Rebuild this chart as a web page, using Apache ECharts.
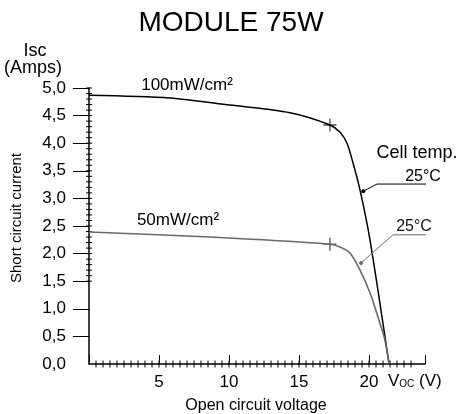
<!DOCTYPE html>
<html>
<head>
<meta charset="utf-8">
<script src="https://cdn.jsdelivr.net/npm/echarts@6/dist/echarts.min.js"></script>
<style>
html, body { margin: 0; padding: 0; background: #fff; }
#chart { width: 464px; height: 414px; }
</style>
</head>
<body>
<div id="chart"></div>
<script>
var FONT = '"Liberation Sans", Arial, Helvetica, sans-serif';

// I-V curves: [voltage V, current A]
var curve100 = [[0, 4.87], [5.79, 4.82], [10.07, 4.69], [14.36, 4.55], [17.21, 4.33],
    [17.93, 4.20], [18.43, 4.00], [18.86, 3.64], [19.36, 3.15], [20.07, 2.25], [21.43, 0]];
var curve50 = [[0, 2.39], [8.64, 2.30], [17.21, 2.17], [17.93, 2.12], [18.64, 2.01],
    [19.36, 1.70], [20.07, 1.29], [20.64, 0.85], [21.14, 0.43], [21.43, 0]];
// "+" marks on the knee of each curve
var kneePoints = [[17.21, 4.33], [17.21, 2.17]];
// leader lines of the "25°C" notes
var leader100 = [[19.59, 3.13], [20.57, 3.26], [25.79, 3.26]];
var leader50 = [[19.43, 1.83], [21.71, 2.34], [24.93, 2.34]];

var xLabelValues = [5, 10, 15, 20];
var yLabelValues = [0, 0.5, 1, 1.5, 2, 2.5, 3, 3.5, 4, 4.5, 5];
var yTickValues = [0.5, 1, 1.5, 2, 2.5, 3, 3.5, 4, 4.5, 5];
// small ticks: every 0.5 V up to 23 V, every 0.1 A from 1.5 A up
var xMinorTicks = [];
for (var i = 1; i <= 46; i++) xMinorTicks.push(i * 0.5);
var yMinorTicks = [];
for (var j = 15; j <= 50; j++) yMinorTicks.push(j / 10);

var chart = echarts.init(document.getElementById('chart'));

var axisCol = '#000';

// short tick crossing the axis line, placed through the axis scales
function tickItem(horizontal, half) {
    return function (params, api) {
        var p = api.coord([api.value(0), api.value(1)]);
        var shape = horizontal
            ? { x1: p[0] - half, y1: p[1], x2: p[0] + half, y2: p[1] }
            : { x1: p[0], y1: p[1] - half, x2: p[0], y2: p[1] + half };
        return { type: 'line', shape: shape, style: { stroke: axisCol, lineWidth: 1 } };
    };
}

var option = {
    animation: false,
    backgroundColor: '#fff',
    grid: { left: 89, top: 88, width: 336, bottom: 50 },
    xAxis: {
        type: 'value', min: 0, max: 24, interval: 5,
        axisLine: { show: true, lineStyle: { color: axisCol, width: 1.5 } },
        axisTick: { show: true, inside: true, length: 9, lineStyle: { color: axisCol, width: 1 } },
        axisLabel: {
            customValues: xLabelValues, margin: 10,
            color: '#000', fontFamily: FONT, fontSize: 17
        },
        splitLine: { show: false }
    },
    yAxis: {
        type: 'value', min: 0, max: 5, interval: 0.5,
        axisLine: { show: true, lineStyle: { color: axisCol, width: 1.5 } },
        axisTick: { show: true, customValues: yTickValues, length: 16, lineStyle: { color: axisCol, width: 1 } },
        axisLabel: {
            customValues: yLabelValues, margin: 23,
            color: '#000', fontFamily: FONT, fontSize: 17,
            formatter: function (v) { return v.toFixed(1).replace('.', ','); }
        },
        splitLine: { show: false }
    },
    series: [
        {
            type: 'custom', clip: false, silent: true,
            data: xMinorTicks.map(function (v) { return [v, 0]; }),
            renderItem: tickItem(false, 3.5)
        },
        {
            type: 'custom', clip: false, silent: true,
            data: yMinorTicks.map(function (v) { return [0, v]; }),
            renderItem: tickItem(true, 3)
        },
        {
            type: 'line', data: curve100,
            smooth: 0.3, showSymbol: false,
            lineStyle: { color: '#000', width: 1.5 }
        },
        {
            type: 'line', data: curve50,
            smooth: 0.3, showSymbol: false,
            lineStyle: { color: '#6a6a6a', width: 1.6 }
        },
        {
            type: 'scatter', data: kneePoints,
            symbol: 'path://M5.4,0h1.2v12h-1.2zM0,5.4h12v1.2h-12z', symbolSize: 13,
            itemStyle: { color: '#222' }
        },
        {
            type: 'line', clip: false,
            data: leader100.map(function (p, i) {
                return { value: p, symbol: i === 0 ? 'circle' : 'none', symbolSize: 4 };
            }),
            showSymbol: true, itemStyle: { color: '#000' },
            lineStyle: { color: '#000', width: 1 }
        },
        {
            type: 'line', clip: false,
            data: leader50.map(function (p, i) {
                return { value: p, symbol: i === 0 ? 'circle' : 'none', symbolSize: 4 };
            }),
            showSymbol: true, itemStyle: { color: '#6a6a6a' },
            lineStyle: { color: '#6a6a6a', width: 1 }
        }
    ],
    graphic: [
        { type: 'text', style: { text: 'MODULE 75W', x: 231, y: 23, font: '28px ' + FONT, textAlign: 'center', textVerticalAlign: 'middle', fill: '#000' } },
        { type: 'text', style: { text: 'Isc', x: 35, y: 51, font: '18px ' + FONT, textAlign: 'center', textVerticalAlign: 'middle', fill: '#000' } },
        { type: 'text', style: { text: '(Amps)', x: 33, y: 68, font: '18px ' + FONT, textAlign: 'center', textVerticalAlign: 'middle', fill: '#000' } },
        { type: 'text', x: 17, y: 218, rotation: Math.PI / 2, style: { text: 'Short circuit current', x: 0, y: 0, font: '15px ' + FONT, textAlign: 'center', textVerticalAlign: 'middle', fill: '#000' } },
        { type: 'text', style: { text: '100mW/cm²', x: 187, y: 85, font: '17px ' + FONT, textAlign: 'center', textVerticalAlign: 'middle', fill: '#000' } },
        { type: 'text', style: { text: '50mW/cm²', x: 178, y: 220, font: '17px ' + FONT, textAlign: 'center', textVerticalAlign: 'middle', fill: '#000' } },
        { type: 'text', style: { text: 'Cell temp.', x: 417, y: 153, font: '18px ' + FONT, textAlign: 'center', textVerticalAlign: 'middle', fill: '#000' } },
        { type: 'text', style: { text: '25°C', x: 423, y: 177, font: '16px ' + FONT, textAlign: 'center', textVerticalAlign: 'middle', fill: '#000' } },
        { type: 'text', style: { text: '25°C', x: 414, y: 227, font: '16px ' + FONT, textAlign: 'center', textVerticalAlign: 'middle', fill: '#111' } },
        { type: 'text', style: { text: 'Open circuit voltage', x: 256, y: 406, font: '16px ' + FONT, textAlign: 'center', textVerticalAlign: 'middle', fill: '#000' } },
        {
            type: 'text', style: {
                text: '{v|V}{s|OC}{v| (V)}', x: 388, y: 381, textVerticalAlign: 'middle',
                rich: {
                    v: { fontFamily: FONT, fontSize: 17, color: '#000', verticalAlign: 'bottom' },
                    s: { fontFamily: FONT, fontSize: 10, color: '#000', verticalAlign: 'bottom' }
                }
            }
        }
    ]
};

chart.setOption(option);
window.addEventListener('resize', chart.resize);
</script>
</body>
</html>
